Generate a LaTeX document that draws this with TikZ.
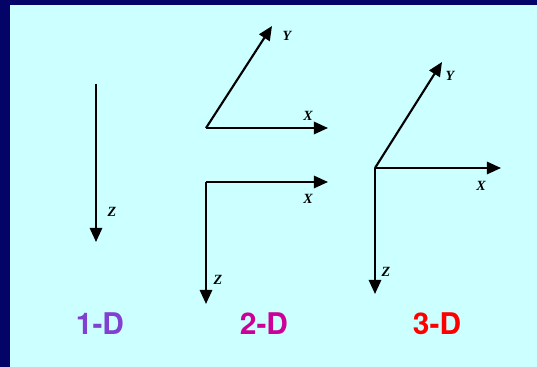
\documentclass[tikz,border=0pt]{standalone}
\usepackage{fontspec}
\setmainfont{Liberation Serif}
\newfontfamily\labelfont{TeX Gyre Heros}
\usetikzlibrary{arrows.meta}
\definecolor{slidenavy}{RGB}{4,4,104}
\definecolor{slidecyan}{RGB}{204,255,255}
\definecolor{dimone}{RGB}{128,64,208}
\definecolor{dimtwo}{RGB}{204,0,153}
\definecolor{dimthree}{RGB}{255,0,0}
\tikzset{
  axis/.style={line width=1.2pt, -{Triangle[length=8pt,width=7pt]}},
  axlabel/.style={font=\fontsize{8}{9}\selectfont\bfseries\itshape, inner sep=0pt},
  dimlabel/.style={font=\fontsize{17}{20}\selectfont\labelfont\bfseries, inner sep=0pt}
}
\begin{document}
\begin{tikzpicture}[x=0.02cm, y=-0.02cm]
  % Slide background
  \fill[slidenavy] (0,0) rectangle (537,367);
  \fill[slidecyan] (10,5) rectangle (537,367);
  \useasboundingbox (0,0) rectangle (537,367);

  % 1-D: a single axis
  \coordinate (top1) at (96, 84);
  \coordinate (z1) at (96, 242);
  \draw[axis] (top1) -- (z1);
  \node[axlabel] (zl1) at (112, 212) {Z};

  % 2-D: the X-Y plane
  \coordinate (o2a) at (206, 128);
  \coordinate (y2) at (272, 26);
  \coordinate (x2a) at (328, 128);
  \draw[axis] (o2a) -- (y2);
  \draw[axis] (o2a) -- (x2a);
  \node[axlabel] (yl2) at (287, 36) {Y};
  \node[axlabel] (xl2a) at (308, 116) {X};

  % 2-D: the X-Z plane
  \coordinate (o2b) at (206, 182);
  \coordinate (x2b) at (328, 182);
  \coordinate (z2) at (206, 304);
  \draw[axis] (o2b) -- (x2b);
  \draw[axis] (o2b) -- (z2);
  \node[axlabel] (xl2b) at (308, 199) {X};
  \node[axlabel] (zl2) at (218, 280) {Z};

  % 3-D: all three axes
  \coordinate (o3) at (375, 168);
  \coordinate (y3) at (442, 62);
  \coordinate (x3) at (501, 168);
  \coordinate (z3) at (375, 294);
  \draw[axis] (o3) -- (y3);
  \draw[axis] (o3) -- (x3);
  \draw[axis] (o3) -- (z3);
  \node[axlabel] (yl3) at (450, 76) {Y};
  \node[axlabel] (xl3) at (481, 186) {X};
  \node[axlabel] (zl3) at (386, 272) {Z};

  % Captions
  \node[dimlabel, text=dimone] (one) at (100, 324) {1-D};
  \node[dimlabel, text=dimtwo] (two) at (264, 324) {2-D};
  \node[dimlabel, text=dimthree] (three) at (437, 324) {3-D};
\end{tikzpicture}
\end{document}
